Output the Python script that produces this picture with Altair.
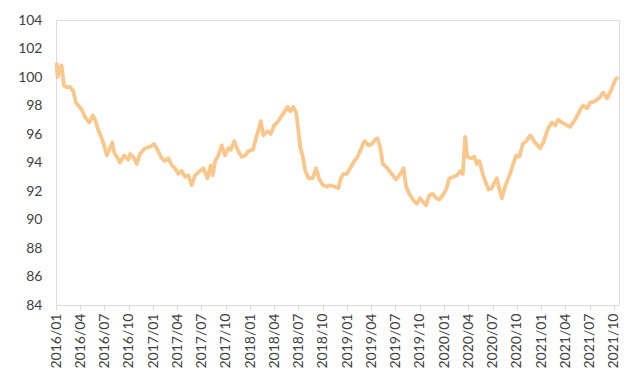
import altair as alt
import pandas as pd

dates = [
    "2016-01-03", "2016-01-07", "2016-01-16", "2016-01-22", "2016-01-31", "2016-02-10", "2016-02-23",
    "2016-03-06", "2016-03-16", "2016-03-25", "2016-04-07", "2016-04-19", "2016-05-05", "2016-05-18",
    "2016-05-27", "2016-06-08", "2016-06-21", "2016-06-30", "2016-07-10", "2016-07-22", "2016-07-31",
    "2016-08-07", "2016-08-17", "2016-08-29", "2016-09-13", "2016-09-29", "2016-10-06", "2016-10-18",
    "2016-10-31", "2016-11-12", "2016-12-01", "2016-12-20", "2017-01-04", "2017-01-14", "2017-02-02",
    "2017-02-14", "2017-02-27", "2017-03-12", "2017-03-24", "2017-04-05", "2017-04-18", "2017-05-01",
    "2017-05-13", "2017-05-26", "2017-06-07", "2017-06-26", "2017-07-09", "2017-07-24", "2017-08-05",
    "2017-08-13", "2017-08-22", "2017-09-03", "2017-09-16", "2017-09-28", "2017-10-11", "2017-10-20",
    "2017-11-02", "2017-11-14", "2017-11-30", "2017-12-13", "2017-12-25", "2018-01-11", "2018-01-26",
    "2018-02-10", "2018-02-19", "2018-03-07", "2018-03-19", "2018-04-01", "2018-04-17", "2018-04-30",
    "2018-05-12", "2018-05-21", "2018-05-31", "2018-06-12", "2018-06-23", "2018-07-01", "2018-07-08",
    "2018-07-18", "2018-07-26", "2018-08-08", "2018-08-24", "2018-09-06", "2018-09-18", "2018-10-03",
    "2018-10-16", "2018-10-29", "2018-11-16", "2018-11-29", "2018-12-08", "2018-12-18", "2018-12-30",
    "2019-01-12", "2019-01-27", "2019-02-06", "2019-02-19", "2019-03-01", "2019-03-09", "2019-03-22",
    "2019-04-04", "2019-04-16", "2019-04-25", "2019-05-05", "2019-05-15", "2019-05-27", "2019-06-09",
    "2019-06-22", "2019-07-04", "2019-07-17", "2019-08-01", "2019-08-11", "2019-08-23", "2019-09-05",
    "2019-09-20", "2019-10-02", "2019-10-15", "2019-10-25", "2019-11-06", "2019-11-19", "2019-12-02",
    "2019-12-14", "2019-12-27", "2020-01-08", "2020-01-21", "2020-02-05", "2020-02-18", "2020-03-01",
    "2020-03-11", "2020-03-20", "2020-03-28", "2020-04-10", "2020-04-23", "2020-05-03", "2020-05-13",
    "2020-05-22", "2020-06-03", "2020-06-16", "2020-06-28", "2020-07-17", "2020-07-27", "2020-08-05",
    "2020-08-17", "2020-09-03", "2020-09-15", "2020-09-28", "2020-10-10", "2020-10-23", "2020-11-05",
    "2020-11-20", "2020-12-08", "2020-12-27", "2021-01-08", "2021-01-26", "2021-02-10", "2021-02-22",
    "2021-03-05", "2021-03-20", "2021-04-08", "2021-04-19", "2021-05-08", "2021-05-27", "2021-06-07",
    "2021-06-22", "2021-07-04", "2021-07-22", "2021-08-10", "2021-08-21", "2021-09-05", "2021-09-21",
    "2021-10-06", "2021-10-17",
]

values = [
    101.0, 100.0, 100.6, 100.8, 99.4, 99.3, 99.3,
    99.0, 98.2, 98.0, 97.7, 97.2, 96.8, 97.3,
    97.0, 96.3, 95.7, 95.2, 94.5, 95.0, 95.4,
    94.7, 94.4, 94.0, 94.5, 94.2, 94.6, 94.4,
    93.9, 94.6, 95.0, 95.1, 95.3, 95.0, 94.3,
    94.1, 94.3, 93.8, 93.6, 93.2, 93.4, 93.0,
    93.1, 92.4, 93.1, 93.4, 93.6, 92.9, 93.8,
    93.1, 94.1, 94.5, 95.2, 94.5, 95.0, 94.9,
    95.5, 94.9, 94.4, 94.5, 94.8, 94.9, 95.9,
    96.9, 95.9, 96.2, 96.0, 96.6, 96.9, 97.3,
    97.6, 97.9, 97.6, 97.9, 97.5, 96.3, 95.1,
    94.4, 93.5, 92.9, 92.9, 93.6, 92.8, 92.4,
    92.3, 92.4, 92.3, 92.2, 92.9, 93.2, 93.2,
    93.6, 94.1, 94.3, 94.8, 95.3, 95.5, 95.2,
    95.3, 95.6, 95.7, 95.1, 93.9, 93.7, 93.4,
    93.1, 92.8, 93.1, 93.6, 92.3, 91.8, 91.4,
    91.1, 91.5, 91.2, 91.0, 91.7, 91.8, 91.5,
    91.4, 91.7, 92.1, 92.9, 93.0, 93.1, 93.4,
    93.2, 95.8, 94.4, 94.3, 94.4, 93.9, 94.1,
    93.4, 92.7, 92.1, 92.2, 92.9, 92.1, 91.5,
    92.3, 93.1, 93.8, 94.5, 94.4, 95.3, 95.5,
    95.9, 95.4, 95.0, 95.4, 96.4, 96.8, 96.6,
    97.0, 96.8, 96.6, 96.5, 97.0, 97.7, 98.0,
    97.8, 98.2, 98.3, 98.6, 98.9, 98.5, 99.1,
    99.8, 100.0,
]

x_domain = ["2016-01-01", "2021-10-20"]
y_ticks = [84, 86, 88, 90, 92, 94, 96, 98, 100, 102, 104]

df = pd.DataFrame({"date": pd.to_datetime(dates), "value": values})

FONT = "Lato"

chart = (
    alt.Chart(df)
    .mark_line(color="#F9C78B", strokeWidth=3.8, strokeJoin="round")
    .encode(
        x=alt.X(
            "date:T",
            scale=alt.Scale(domain=x_domain),
            axis=alt.Axis(
                title=None,
                format="%Y/%m",
                tickCount={"interval": "month", "step": 3},
                labelAngle=270,
                labelAlign="right",
                labelBaseline="middle",
                labelPadding=3,
                labelFont=FONT,
                labelFontSize=14,
                labelColor="#404040",
                domainColor="#D9D9D9",
                tickColor="#D9D9D9",
                tickSize=5,
                grid=False,
                labelOverlap=False,
                labelFlush=False,
            ),
        ),
        y=alt.Y(
            "value:Q",
            scale=alt.Scale(domain=[84, 104], nice=False, zero=False),
            axis=alt.Axis(
                title=None,
                values=y_ticks,
                domain=False,
                ticks=False,
                grid=False,
                labelPadding=14,
                labelFont=FONT,
                labelFontSize=14,
                labelColor="#404040",
            ),
        ),
    )
    .properties(
        width=563,
        height=285,
        autosize=alt.AutoSizeParams(type="none"),
        padding={"left": 48, "top": 12, "right": 13, "bottom": 70},
    )
    .configure_view(stroke=None)
    .configure(background="white")
)

chart.save("out.html", embed_options={"renderer": "svg", "actions": False})
